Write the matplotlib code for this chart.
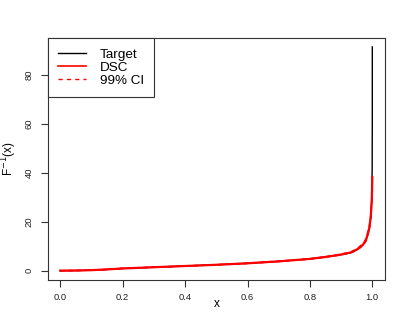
import matplotlib
matplotlib.use("Agg")
import matplotlib.pyplot as plt
from matplotlib.lines import Line2D

plt.rcParams['font.family'] = ['Liberation Sans', 'DejaVu Sans']

# Data
probs = [0.0, 0.05, 0.1, 0.15, 0.2, 0.3, 0.4, 0.5, 0.6, 0.7, 0.8, 0.85, 0.9,
         0.93, 0.95, 0.97, 0.98, 0.99, 0.995, 0.998, 0.999, 0.9995, 0.9999, 1.0]
target = [0.0, 0.05, 0.2, 0.5, 0.9, 1.4, 1.9, 2.4, 3.0, 3.8, 4.8, 5.6, 6.5,
          7.3, 8.5, 10.5, 12.5, 17.0, 22.0, 29.0, 35.0, 42.0, 60.0, 91.4]
dsc = [0.0, 0.05, 0.2, 0.5, 0.9, 1.4, 1.9, 2.4, 3.0, 3.8, 4.8, 5.6, 6.6,
       7.4, 8.6, 10.6, 12.6, 17.2, 22.0, 28.0, 32.0, 35.5, 37.8, 38.2]
ci_low = [0.0, 0.04, 0.18, 0.47, 0.85, 1.35, 1.85, 2.35, 2.9, 3.7, 4.7, 5.5, 6.4,
          7.2, 8.3, 10.2, 12.1, 16.5, 21.0, 27.0, 31.0, 34.5, 37.0, 37.5]
ci_high = [0.0, 0.06, 0.22, 0.53, 0.95, 1.45, 1.95, 2.45, 3.1, 3.9, 4.9, 5.7, 6.8,
           7.6, 8.9, 11.0, 13.1, 17.9, 23.0, 29.0, 33.0, 36.5, 38.5, 38.8]
xticks = [0.0, 0.2, 0.4, 0.6, 0.8, 1.0]
xtick_labels = ["0.0", "0.2", "0.4", "0.6", "0.8", "1.0"]
yticks = [0, 20, 40, 60, 80]

W, H = 409, 327
fig = plt.figure(figsize=(W / 100, H / 100), dpi=100)
left, right, top, bottom = 47.8, 384.8, 38.0, 279.6
ax = fig.add_axes([left / W, (H - bottom) / H, (right - left) / W, (bottom - top) / H])

ax.plot(probs, target, color="black", lw=1.0, zorder=2)
ax.plot(probs, dsc, color="red", lw=1.6, zorder=3)
ax.plot(probs, ci_low, color="red", lw=1.0, ls=(0, (3, 3)), zorder=3)
ax.plot(probs, ci_high, color="red", lw=1.0, ls=(0, (3, 3)), zorder=3)

ymax = 91.4
ax.set_xlim(-0.04, 1.04)
ax.set_ylim(-0.04 * ymax, 1.04 * ymax)

for s in ax.spines.values():
    s.set_color("#333333")
    s.set_linewidth(0.8)

ax.set_xticks(xticks)
ax.set_xticklabels(xtick_labels)
ax.set_yticks(yticks)
ax.set_yticklabels([str(v) for v in yticks], rotation=90, va="center")
ax.tick_params(axis="both", direction="out", length=5, width=0.8, color="#333333",
               labelsize=6.8, labelcolor="#222222", pad=5)

ax.set_xlabel("x", fontsize=8.5)
ax.set_ylabel(r"F$^{-1}$(x)", fontsize=8.5)
ax.xaxis.set_label_coords(0.5, -0.078)
ax.yaxis.set_label_coords(-0.085, 0.5)

handles = [Line2D([], [], color="black", lw=1.0),
           Line2D([], [], color="red", lw=1.2),
           Line2D([], [], color="red", lw=1.0, ls=(0, (3, 3)))]
leg = ax.legend(handles, ["Target", "DSC", "99% CI"], loc="upper left",
                bbox_to_anchor=(0, 1), borderaxespad=0, fancybox=False,
                framealpha=1, edgecolor="#333333", fontsize=9.7,
                handlelength=2.1, handletextpad=1.0, labelspacing=0.05,
                borderpad=0.75)
leg.get_frame().set_linewidth(0.8)

fig.savefig("out.png", dpi=100)
